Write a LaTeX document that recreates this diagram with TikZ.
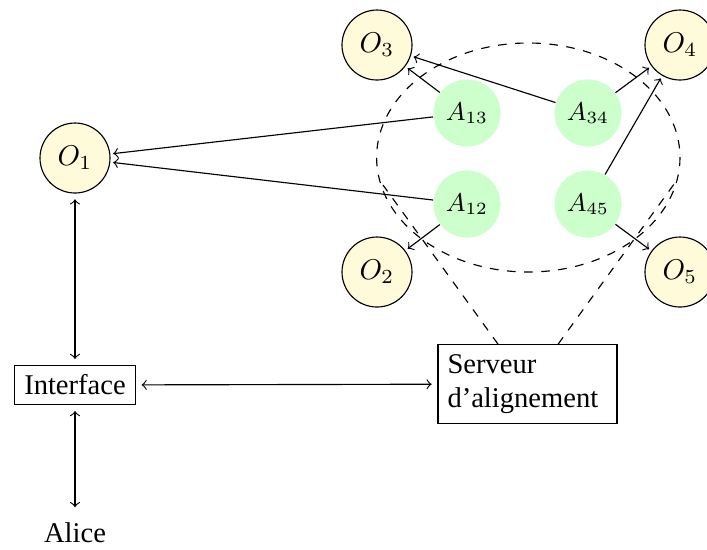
\documentclass[tikz,border=0pt]{standalone}
\usepackage[no-math]{fontspec}
\setmainfont{Liberation Serif}
\usetikzlibrary{calc}
\definecolor{ofill}{RGB}{255,250,217}
\definecolor{afill}{RGB}{204,255,204}
\tikzset{
  onode/.style={circle,draw,fill=ofill,minimum size=24.5pt,inner sep=0pt},
  anode/.style={circle,fill=afill,minimum size=23.5pt,inner sep=0pt,font=\small},
  boxnode/.style={draw,rectangle},
  link/.style={->},
  blink/.style={<->,shorten <=2pt,shorten >=2pt},
}
\begin{document}
\begin{tikzpicture}[x=0.35pt,y=-0.35pt]
\useasboundingbox (0,0) rectangle (707,549);
% ellipse
\draw[dashed] (528.3,157.5) ellipse [x radius=151.7, y radius=114.5];
% O nodes
\node[onode] (O1) at (75,158) {$O_1$};
\node[onode] (O3) at (377,45) {$O_3$};
\node[onode] (O4) at (680,45) {$O_4$};
\node[onode] (O2) at (377,272) {$O_2$};
\node[onode] (O5) at (680,272) {$O_5$};
% A nodes
\node[anode] (A13) at (467,113) {$A_{13}$};
\node[anode] (A34) at (588,113) {$A_{34}$};
\node[anode] (A12) at (467,204) {$A_{12}$};
\node[anode] (A45) at (588,204) {$A_{45}$};
% boxes
\node[boxnode] (I) at (75,385) {Interface};
\node[boxnode,text width=56pt,align=left] (S) at (527.5,384) {Serveur\\d'alignement};
\node (Al) at (75,533) {Alice};
% tangent points on ellipse
\coordinate (tl) at (383,185);
\coordinate (tr) at (677,180);
\draw[dashed] ([xshift=-10.3pt]S.north) -- (tl);
\draw[dashed] ([xshift=10.7pt]S.north) -- (tr);
% arrows
\draw[link,shorten >=1pt] (A13) -- (O1);
\draw[link,shorten >=1pt] (A12) -- (O1);
\draw[link,shorten >=1pt] (A13) -- (O3);
\draw[link,shorten >=1pt] (A34) -- (O3);
\draw[link,shorten >=1pt] (A34) -- (O4);
\draw[link,shorten >=1pt] (A45) -- (O4);
\draw[link,shorten >=1pt] (A12) -- (O2);
\draw[link,shorten >=1pt] (A45) -- (O5);
\draw[blink] (O1) -- (I);
\draw[blink] (I) -- (S);
\draw[blink] (I) -- (Al);
\end{tikzpicture}
\end{document}
